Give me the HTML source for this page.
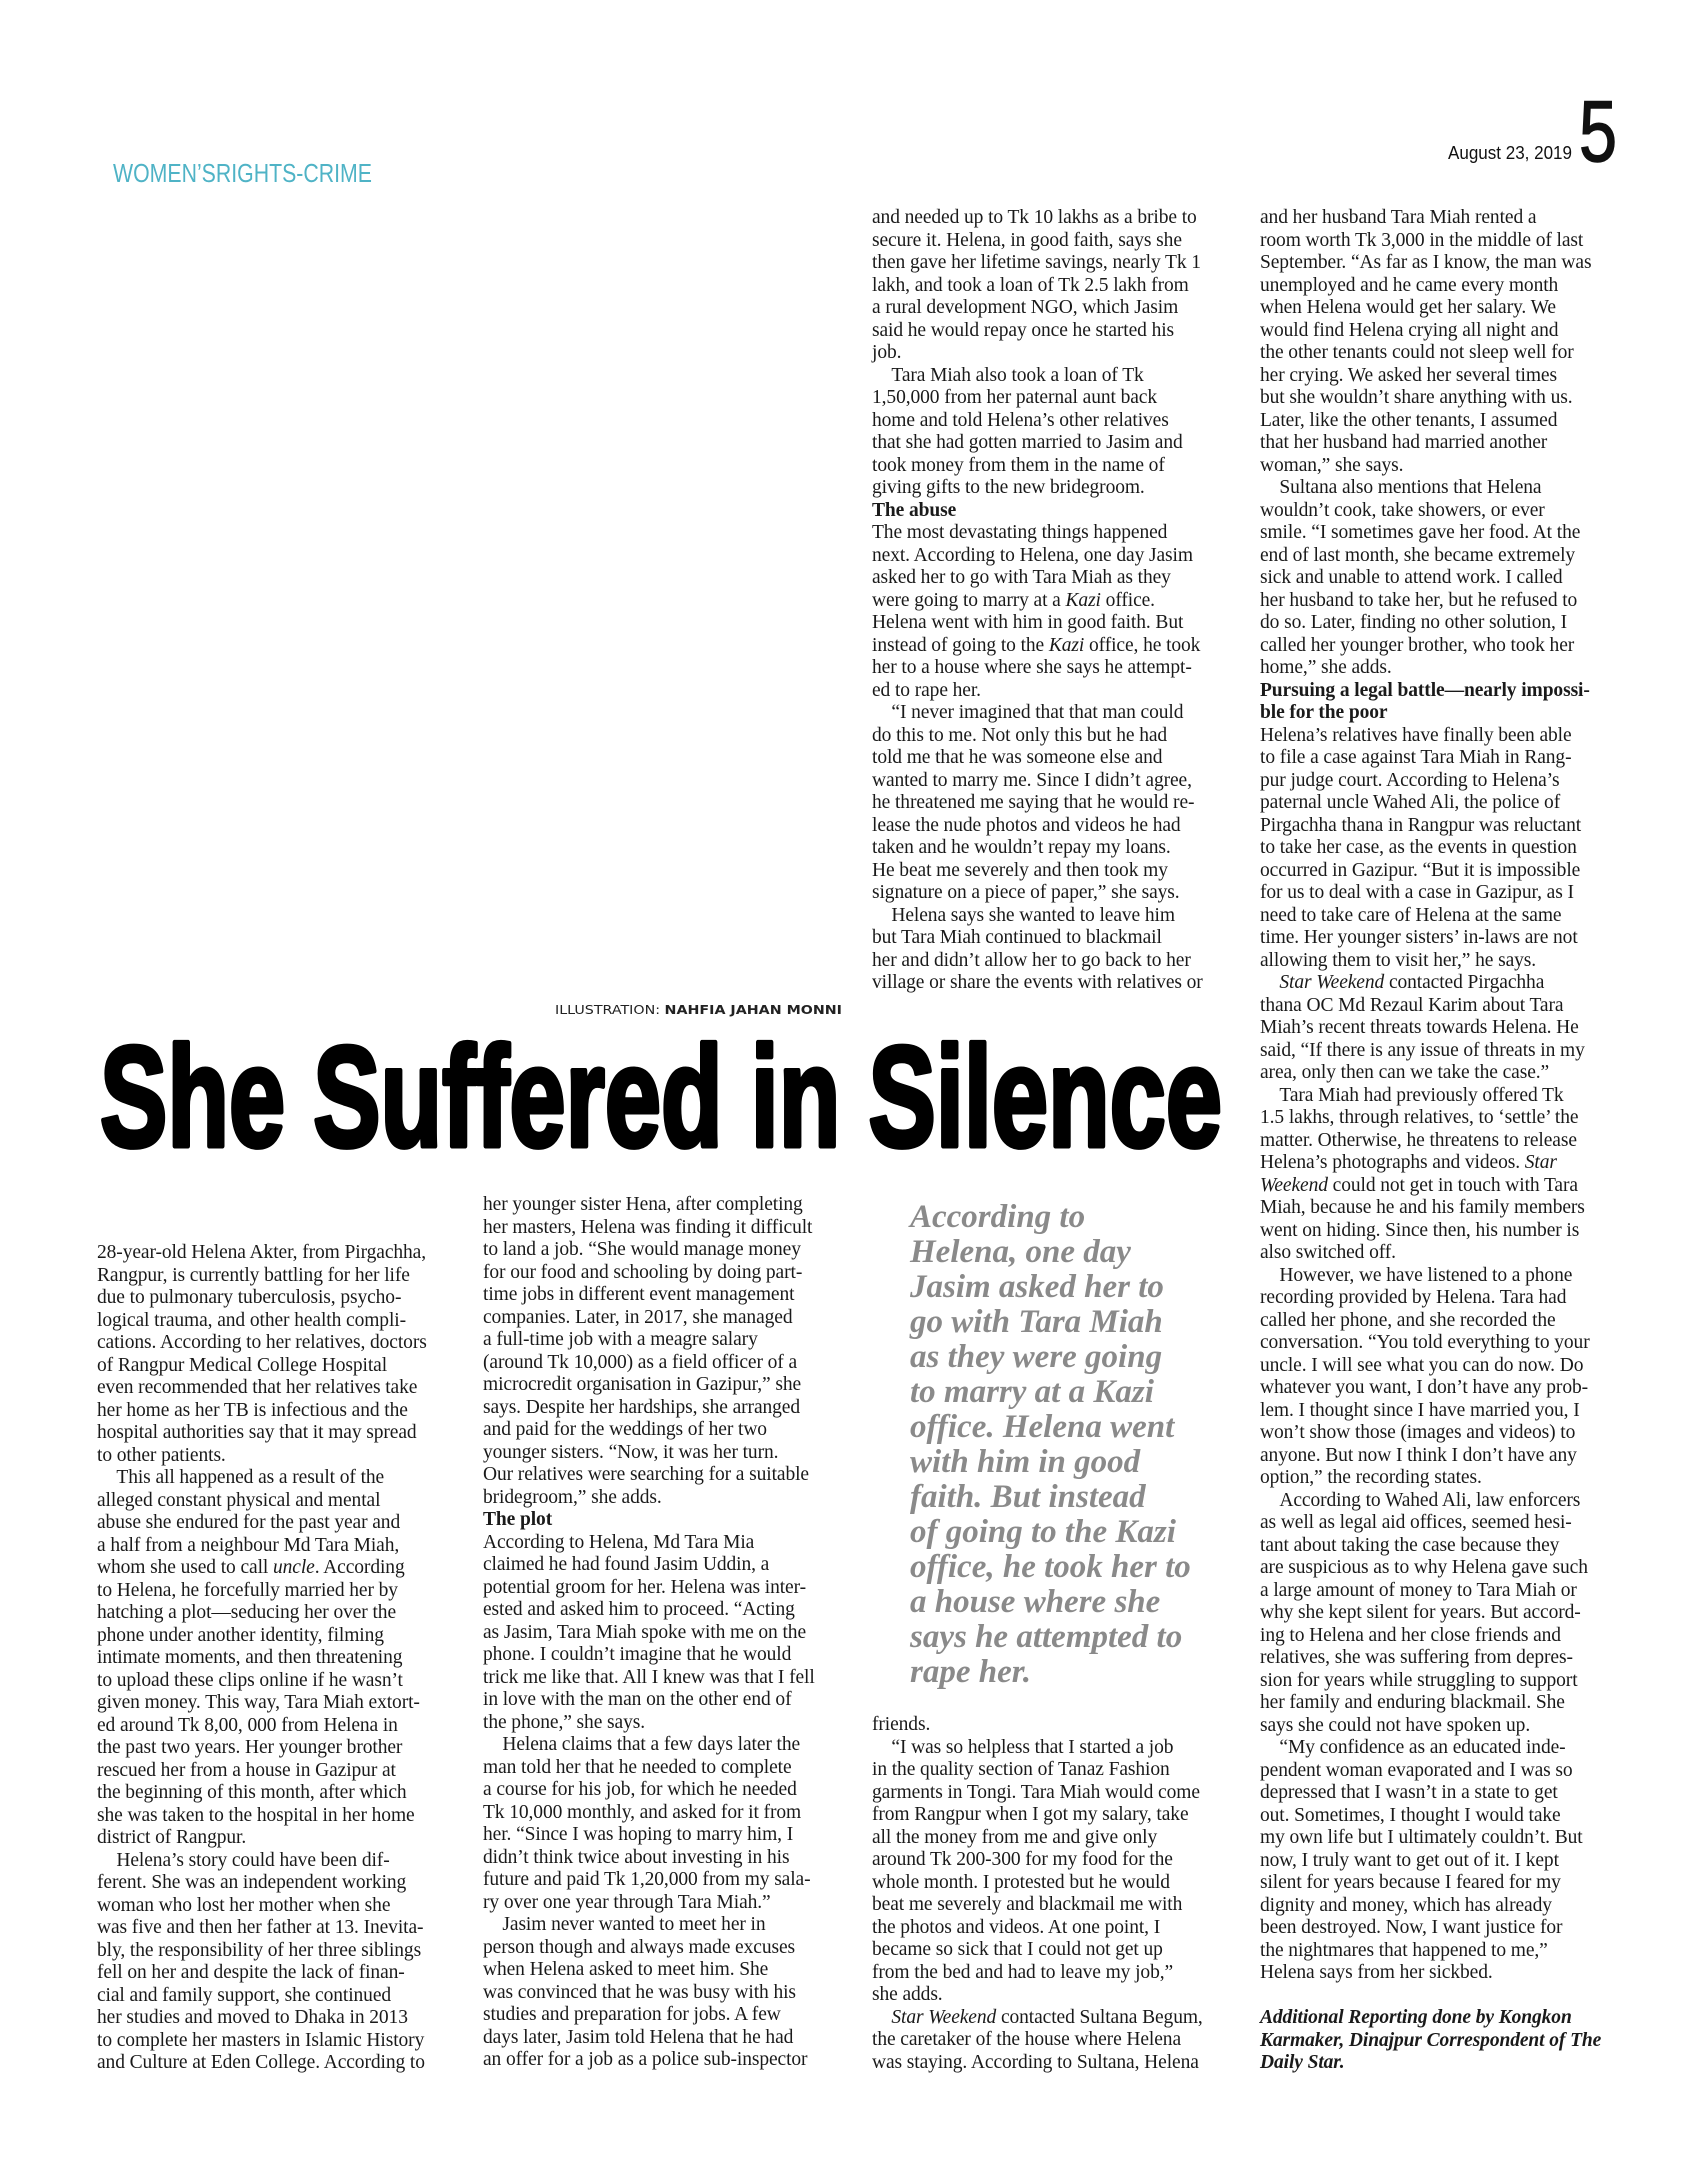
<!DOCTYPE html>
<html><head><meta charset="utf-8"><style>
html,body{margin:0;padding:0;background:#fff}
body{width:1705px;height:2170px;position:relative;overflow:hidden;font-family:"Liberation Serif",serif;color:#1a1a1a}
.col{position:absolute;white-space:pre;font-size:19.5px;line-height:22.5px;letter-spacing:-0.1px}
.pq{position:absolute;left:910px;top:1200px;white-space:pre;font-family:"Liberation Serif",serif;font-style:italic;font-weight:bold;font-size:33px;line-height:35px;color:#8a8a8a}
svg{position:absolute;left:0;top:0}
</style></head><body>
<svg width="1705" height="2170">
<text x="113" y="182" font-family="Liberation Sans, sans-serif" font-size="26" fill="#4fb3c6" textLength="259" lengthAdjust="spacingAndGlyphs">WOMEN’SRIGHTS-CRIME</text>
<text x="1448" y="159" font-family="Liberation Sans, sans-serif" font-size="18" fill="#111" textLength="124" lengthAdjust="spacingAndGlyphs">August 23, 2019</text>
<text x="1579" y="161" font-family="Liberation Sans, sans-serif" font-size="86" fill="#111" stroke="#111" stroke-width="1.5" textLength="38" lengthAdjust="spacingAndGlyphs">5</text>
<text x="555" y="1014" font-family="DejaVu Sans, sans-serif" font-size="12" fill="#222" textLength="287" lengthAdjust="spacingAndGlyphs">ILLUSTRATION: <tspan font-weight="bold">NAHFIA JAHAN MONNI</tspan></text>
<text x="100" y="1146" font-family="Liberation Sans, sans-serif" font-weight="bold" font-size="143" fill="#000" stroke="#000" stroke-width="5" stroke-linejoin="round" textLength="1122" lengthAdjust="spacingAndGlyphs">She Suffered in Silence</text>
</svg>

<div class="col" style="left:872px;top:207px">and needed up to Tk 10 lakhs as a bribe to
secure it. Helena, in good faith, says she
then gave her lifetime savings, nearly Tk 1
lakh, and took a loan of Tk 2.5 lakh from
a rural development NGO, which Jasim
said he would repay once he started his
job.
&emsp;Tara Miah also took a loan of Tk
1,50,000 from her paternal aunt back
home and told Helena’s other relatives
that she had gotten married to Jasim and
took money from them in the name of
giving gifts to the new bridegroom.
<b>The abuse</b>
The most devastating things happened
next. According to Helena, one day Jasim
asked her to go with Tara Miah as they
were going to marry at a <i>Kazi</i> office.
Helena went with him in good faith. But
instead of going to the <i>Kazi</i> office, he took
her to a house where she says he attempt-
ed to rape her.
&emsp;“I never imagined that that man could
do this to me. Not only this but he had
told me that he was someone else and
wanted to marry me. Since I didn’t agree,
he threatened me saying that he would re-
lease the nude photos and videos he had
taken and he wouldn’t repay my loans.
He beat me severely and then took my
signature on a piece of paper,” she says.
&emsp;Helena says she wanted to leave him
but Tara Miah continued to blackmail
her and didn’t allow her to go back to her
village or share the events with relatives or</div>

<div class="col" style="left:1260px;top:207px">and her husband Tara Miah rented a
room worth Tk 3,000 in the middle of last
September. “As far as I know, the man was
unemployed and he came every month
when Helena would get her salary. We
would find Helena crying all night and
the other tenants could not sleep well for
her crying. We asked her several times
but she wouldn’t share anything with us.
Later, like the other tenants, I assumed
that her husband had married another
woman,” she says.
&emsp;Sultana also mentions that Helena
wouldn’t cook, take showers, or ever
smile. “I sometimes gave her food. At the
end of last month, she became extremely
sick and unable to attend work. I called
her husband to take her, but he refused to
do so. Later, finding no other solution, I
called her younger brother, who took her
home,” she adds.
<b>Pursuing a legal battle—nearly impossi-
ble for the poor</b>
Helena’s relatives have finally been able
to file a case against Tara Miah in Rang-
pur judge court. According to Helena’s
paternal uncle Wahed Ali, the police of
Pirgachha thana in Rangpur was reluctant
to take her case, as the events in question
occurred in Gazipur. “But it is impossible
for us to deal with a case in Gazipur, as I
need to take care of Helena at the same
time. Her younger sisters’ in-laws are not
allowing them to visit her,” he says.
&emsp;<i>Star Weekend</i> contacted Pirgachha
thana OC Md Rezaul Karim about Tara
Miah’s recent threats towards Helena. He
said, “If there is any issue of threats in my
area, only then can we take the case.”
&emsp;Tara Miah had previously offered Tk
1.5 lakhs, through relatives, to ‘settle’ the
matter. Otherwise, he threatens to release
Helena’s photographs and videos. <i>Star
Weekend</i> could not get in touch with Tara
Miah, because he and his family members
went on hiding. Since then, his number is
also switched off.
&emsp;However, we have listened to a phone
recording provided by Helena. Tara had
called her phone, and she recorded the
conversation. “You told everything to your
uncle. I will see what you can do now. Do
whatever you want, I don’t have any prob-
lem. I thought since I have married you, I
won’t show those (images and videos) to
anyone. But now I think I don’t have any
option,” the recording states.
&emsp;According to Wahed Ali, law enforcers
as well as legal aid offices, seemed hesi-
tant about taking the case because they
are suspicious as to why Helena gave such
a large amount of money to Tara Miah or
why she kept silent for years. But accord-
ing to Helena and her close friends and
relatives, she was suffering from depres-
sion for years while struggling to support
her family and enduring blackmail. She
says she could not have spoken up.
&emsp;“My confidence as an educated inde-
pendent woman evaporated and I was so
depressed that I wasn’t in a state to get
out. Sometimes, I thought I would take
my own life but I ultimately couldn’t. But
now, I truly want to get out of it. I kept
silent for years because I feared for my
dignity and money, which has already
been destroyed. Now, I want justice for
the nightmares that happened to me,”
Helena says from her sickbed.</div>

<div class="col" style="left:1260px;top:2007px;font-style:italic;font-weight:bold">Additional Reporting done by Kongkon
Karmaker, Dinajpur Correspondent of The
Daily Star.</div>

<div class="col" style="left:97px;top:1242px">28-year-old Helena Akter, from Pirgachha,
Rangpur, is currently battling for her life
due to pulmonary tuberculosis, psycho-
logical trauma, and other health compli-
cations. According to her relatives, doctors
of Rangpur Medical College Hospital
even recommended that her relatives take
her home as her TB is infectious and the
hospital authorities say that it may spread
to other patients.
&emsp;This all happened as a result of the
alleged constant physical and mental
abuse she endured for the past year and
a half from a neighbour Md Tara Miah,
whom she used to call <i>uncle</i>. According
to Helena, he forcefully married her by
hatching a plot—seducing her over the
phone under another identity, filming
intimate moments, and then threatening
to upload these clips online if he wasn’t
given money. This way, Tara Miah extort-
ed around Tk 8,00, 000 from Helena in
the past two years. Her younger brother
rescued her from a house in Gazipur at
the beginning of this month, after which
she was taken to the hospital in her home
district of Rangpur.
&emsp;Helena’s story could have been dif-
ferent. She was an independent working
woman who lost her mother when she
was five and then her father at 13. Inevita-
bly, the responsibility of her three siblings
fell on her and despite the lack of finan-
cial and family support, she continued
her studies and moved to Dhaka in 2013
to complete her masters in Islamic History
and Culture at Eden College. According to</div>

<div class="col" style="left:483px;top:1194px">her younger sister Hena, after completing
her masters, Helena was finding it difficult
to land a job. “She would manage money
for our food and schooling by doing part-
time jobs in different event management
companies. Later, in 2017, she managed
a full-time job with a meagre salary
(around Tk 10,000) as a field officer of a
microcredit organisation in Gazipur,” she
says. Despite her hardships, she arranged
and paid for the weddings of her two
younger sisters. “Now, it was her turn.
Our relatives were searching for a suitable
bridegroom,” she adds.
<b>The plot</b>
According to Helena, Md Tara Mia
claimed he had found Jasim Uddin, a
potential groom for her. Helena was inter-
ested and asked him to proceed. “Acting
as Jasim, Tara Miah spoke with me on the
phone. I couldn’t imagine that he would
trick me like that. All I knew was that I fell
in love with the man on the other end of
the phone,” she says.
&emsp;Helena claims that a few days later the
man told her that he needed to complete
a course for his job, for which he needed
Tk 10,000 monthly, and asked for it from
her. “Since I was hoping to marry him, I
didn’t think twice about investing in his
future and paid Tk 1,20,000 from my sala-
ry over one year through Tara Miah.”
&emsp;Jasim never wanted to meet her in
person though and always made excuses
when Helena asked to meet him. She
was convinced that he was busy with his
studies and preparation for jobs. A few
days later, Jasim told Helena that he had
an offer for a job as a police sub-inspector</div>

<div class="pq">According to
Helena, one day
Jasim asked her to
go with Tara Miah
as they were going
to marry at a Kazi
office. Helena went
with him in good
faith. But instead
of going to the Kazi
office, he took her to
a house where she
says he attempted to
rape her.</div>

<div class="col" style="left:872px;top:1714px">friends.
&emsp;“I was so helpless that I started a job
in the quality section of Tanaz Fashion
garments in Tongi. Tara Miah would come
from Rangpur when I got my salary, take
all the money from me and give only
around Tk 200-300 for my food for the
whole month. I protested but he would
beat me severely and blackmail me with
the photos and videos. At one point, I
became so sick that I could not get up
from the bed and had to leave my job,”
she adds.
&emsp;<i>Star Weekend</i> contacted Sultana Begum,
the caretaker of the house where Helena
was staying. According to Sultana, Helena</div>
</body></html>
